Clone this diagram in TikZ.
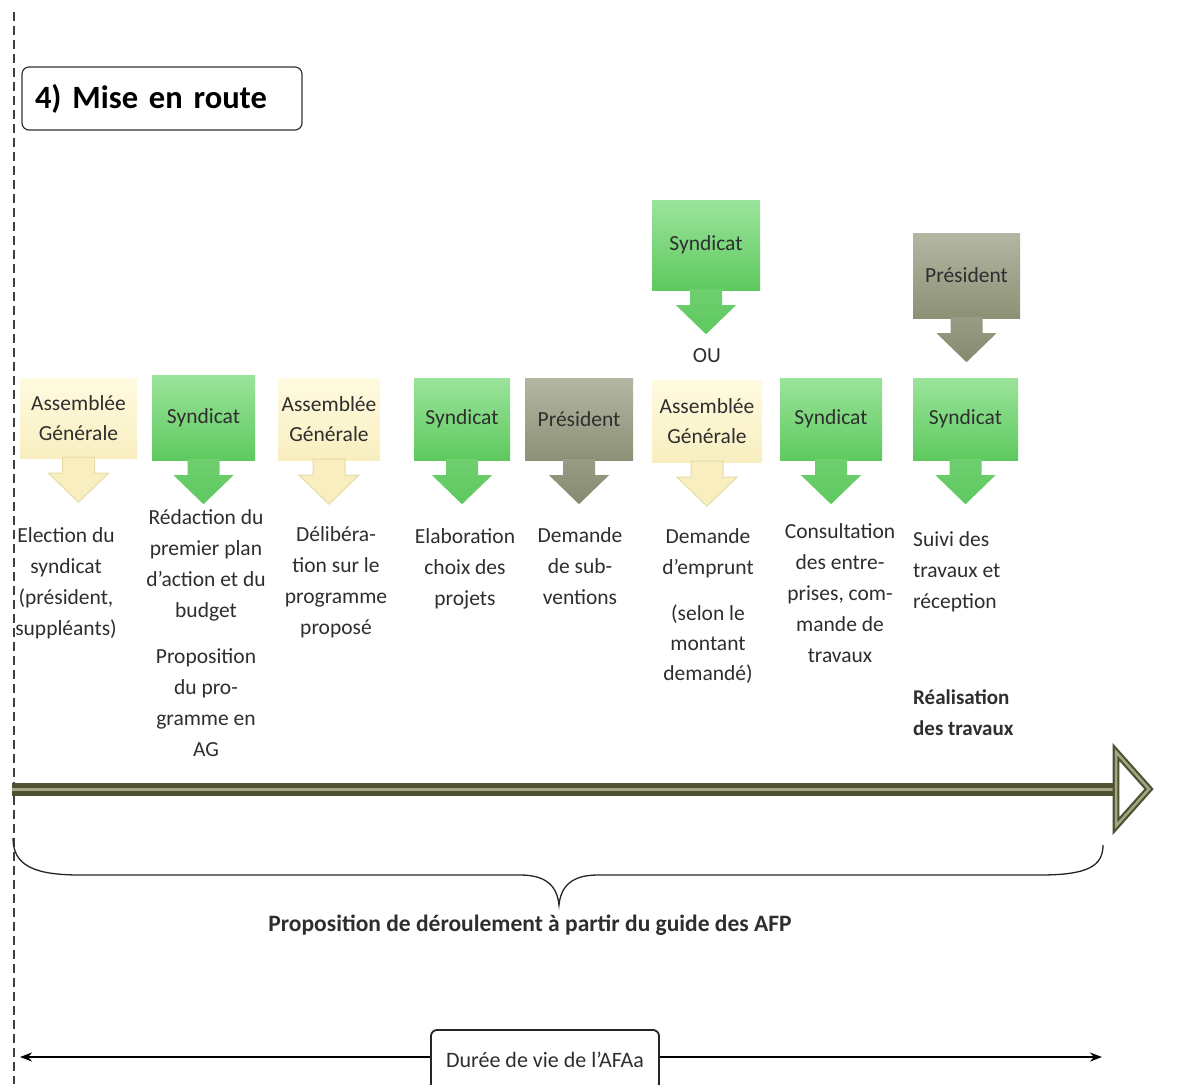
\documentclass[tikz,border=0pt]{standalone}
\usepackage{fontspec}
\setmainfont{Carlito}
\usetikzlibrary{calc,arrows.meta}
\definecolor{gtop}{HTML}{9BE49B}
\definecolor{gbot}{HTML}{5EC95E}
\definecolor{ptop}{HTML}{B3B6A2}
\definecolor{pbot}{HTML}{8C9176}
\definecolor{ctop}{HTML}{FFFBE0}
\definecolor{cbot}{HTML}{F8EEC0}
\definecolor{cedge}{HTML}{E6DBA6}
\definecolor{txt}{HTML}{2E2E2E}
\definecolor{oldark}{HTML}{4E5230}
\definecolor{ollight}{HTML}{A3A684}
\newcommand\darr[2]{\path[#2] ($(#1.south)+(-16,-1)$) -- ++(0,16) -- ++(-14,0) -- ++(30,29) -- ++(30,-29) -- ++(-14,0) -- ++(0,-16) -- cycle;}
\tikzset{
  base/.style={rectangle, minimum height=82, inner sep=2, align=center,
    font=\fontsize{21.5}{30}\selectfont, text=txt},
  gbox/.style={base, top color=gtop, bottom color=gbot},
  pbox/.style={base, top color=ptop, bottom color=pbot},
  cbox/.style={base, top color=ctop, bottom color=cbot},
  garr/.style={top color=gbot!90!white, bottom color=gbot},
  parr/.style={top color=pbot!90!white, bottom color=pbot!95!black},
  carr/.style={fill=cbot, draw=cedge, line width=1},
  body/.style={align=center, inner sep=0, font=\fontsize{21.5}{31}\selectfont, text=txt},
}
\begin{document}
\begin{tikzpicture}[x=1pt,y=-1pt]
\useasboundingbox (0,0) rectangle (1183,1084);
\clip (0,0) rectangle (1183,1084);
\fill[white] (0,0) rectangle (1183,1084);
% dashed vertical line
\coordinate (vtop) at (14,12);
\coordinate (vbot) at (14,1084);
\draw[line width=1.3, color=black!75, dash pattern=on 9pt off 5pt] (vtop) -- (vbot);
% title
\node[draw=black!80, line width=1.2, rounded corners=7, minimum width=280, minimum height=63,
      inner xsep=13, text width=254, align=left, font=\bfseries\fontsize{32.5}{36}\selectfont]
      (title) at (162,98.5) {4) Mise en route};
% row of boxes
\node[cbox, minimum width=117, minimum height=80] (b1) at (78.5,418) {Assemblée\\Générale};
\node[gbox, minimum width=103, minimum height=85] (b2) at (203.5,417.5) {Syndicat};
\node[cbox, minimum width=102] (b3) at (329,419) {Assemblée\\Générale};
\node[gbox, minimum width=96] (b4) at (462,419) {Syndicat};
\node[pbox, minimum width=108] (b5) at (579,419) {Président};
\node[cbox, minimum width=110] (b6) at (707,421) {Assemblée\\Générale};
\node[gbox, minimum width=102] (b7) at (831,419) {Syndicat};
\node[gbox, minimum width=105] (b8) at (965.5,419) {Syndicat};
% upper boxes
\node[gbox, minimum width=108, minimum height=90] (u1) at (706,245) {Syndicat};
\node[pbox, minimum width=107, minimum height=85] (u2) at (966.5,275.5) {Président};
\node[font=\fontsize{21.5}{24}\selectfont, text=txt] (ou) at (707,356) {OU};
% arrows
\darr{b1}{carr}
\darr{b2}{garr}
\darr{b3}{carr}
\darr{b4}{garr}
\darr{b5}{parr}
\darr{b6}{carr}
\darr{b7}{garr}
\darr{b8}{garr}
\darr{u1}{garr}
\darr{u2}{parr}
% body texts
\node[body] (t1) at (66,583.5) {Election du\\syndicat\\(président,\\suppléants)};
\node[body] (t2a) at (206,565.5) {Rédaction du\\premier plan\\d'action et du\\budget};
\node[body] (t2b) at (206,702.5) {Proposition\\du pro-\\gramme en\\AG};
\node[body] (t3) at (336,582.5) {Délibéra-\\tion sur le\\programme\\proposé};
\node[body] (t4) at (465,569) {Elaboration\\choix des\\projets};
\node[body] (t5) at (580,566.5) {Demande\\de sub-\\ventions};
\node[body] (t6a) at (708,553) {Demande\\d'emprunt};
\node[body, font=\fontsize{21.5}{30}\selectfont] (t6b) at (708,644.5) {(selon le\\montant\\demandé)};
\node[body] (t7) at (840,593) {Consultation\\des entre-\\prises, com-\\mande de\\travaux};
\node[body, align=left, anchor=west] (t8a) at (913,571.5) {Suivi des\\travaux et\\réception};
\node[body, align=left, anchor=west, font=\bfseries\fontsize{21}{31}\selectfont] (t8b) at (913,712.5) {Réalisation\\des travaux};
% timeline
\coordinate (tlA) at (12,789);
\coordinate (tlB) at (1116,789);
\draw[line width=13, color=oldark] (tlA) -- (tlB);
\draw[line width=3, color=ollight] (tlA) -- (tlB);
\draw[draw=oldark, line width=2.2, double=ollight, double distance=2.5, fill=white, line join=miter]
   (1116,752) -- (1149,789) -- (1116,826) -- cycle;
% brace
\draw[line width=1.3, color=black!85]
  (13,838) .. controls (13,866) and (35,875) .. (80,875) -- (520,875)
  .. controls (545,875) and (557,885) .. (559,905)
  .. controls (561,885) and (573,875) .. (598,875) -- (1040,875)
  .. controls (1088,875) and (1103,866) .. (1103,845);
\node[font=\bfseries\fontsize{23.5}{26}\selectfont, text=txt] (cap) at (530,925)
   {Proposition de déroulement à partir du guide des AFP};
% life span
\node[draw=black!85, line width=1.8, rounded corners=6, minimum width=228, minimum height=60,
      font=\fontsize{22}{24}\selectfont, text=txt] (life) at (545,1060) {Durée de vie de l'AFAa};
\coordinate (lifeL) at (20,1057);
\coordinate (lifeR) at (1102,1057);
\draw[line width=2, -{Stealth[length=12pt,width=9pt]}] (life.west |- lifeL) -- (lifeL);
\draw[line width=2, -{Stealth[length=12pt,width=9pt]}] (life.east |- lifeR) -- (lifeR);
\end{tikzpicture}
\end{document}
